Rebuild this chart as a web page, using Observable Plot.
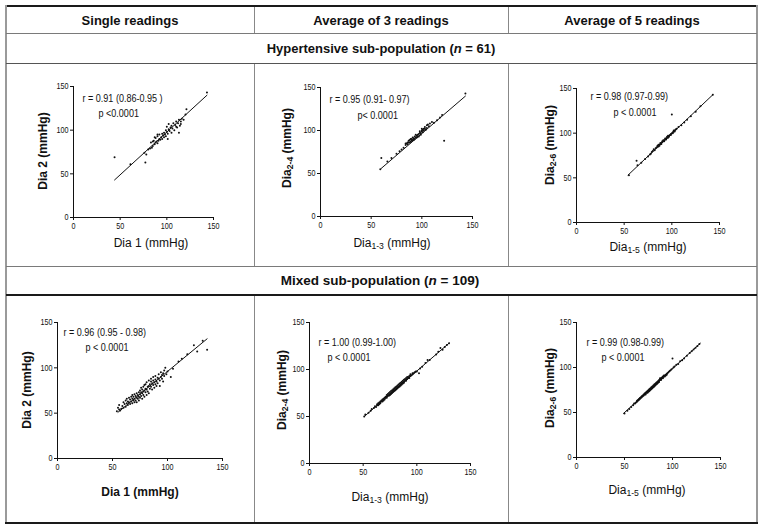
<!DOCTYPE html>
<html>
<head>
<meta charset="utf-8">
<script src="https://cdn.jsdelivr.net/npm/d3@7"></script>
<script src="https://cdn.jsdelivr.net/npm/@observablehq/plot@0.6"></script>
<style>
  html, body { margin: 0; padding: 0; background: #fff; }
  #wrap { position: relative; width: 766px; height: 530px; background: #fff; overflow: hidden; }
  .ln { position: absolute; }
  .hd { position: absolute; font-family: "Liberation Sans", Arial, Helvetica, sans-serif; font-weight: bold; color: #111; white-space: nowrap; transform: translateX(-50%); line-height: 1; }
  svg.panel { position: absolute; }
</style>
</head>
<body>
<div id="wrap"></div>
<script>
// ---------------- DATA ----------------
const columnHeaders = ["Single readings", "Average of 3 readings", "Average of 5 readings"];
const rowHeaders = ["Hypertensive sub-population (", "n", " = 61)", "Mixed sub-population (", "n", " = 109)"];
const axisTicks = [0, 50, 100, 150];

// Hypertensive sub-population (n = 61)
const hyperSingle = [[44,69],[61,61],[76,74],[77,63],[78,72],[80,78],[82,79],[83,86],[84,80],[85,82],[86,88],[87,92],[87,84],[88,86],[88,91],[89,87],[90,85],[90,93],[91,88],[92,90],[92,95],[93,89],[94,92],[95,96],[95,90],[96,94],[97,97],[97,92],[98,95],[99,93],[99,100],[100,98],[100,104],[101,96],[101,90],[102,101],[102,107],[103,99],[104,103],[105,97],[105,105],[106,102],[107,108],[108,100],[109,106],[110,104],[110,110],[111,103],[112,108],[113,97],[113,112],[114,105],[115,110],[115,107],[116,113],[118,112],[120,118],[121,124],[143,143],[85,87],[90,95]];
const hyperAvg3 = [[59,55],[60,68],[66,64],[70,68],[75,73],[78,76],[80,78],[82,80],[84,83],[85,85],[86,84],[87,88],[88,86],[88,89],[89,87],[90,90],[90,88],[91,89],[92,91],[93,90],[93,93],[94,92],[95,94],[95,92],[96,95],[97,93],[97,96],[98,97],[99,95],[100,99],[100,100],[101,98],[102,102],[102,100],[103,104],[104,101],[105,106],[105,103],[106,107],[107,105],[108,108],[110,110],[112,109],[115,112],[118,115],[120,118],[122,88],[143,143],[86,86],[89,90],[91,92],[92,89],[94,95],[96,93],[98,99],[99,97],[101,101],[103,102],[84,85],[87,86],[100,102]];
const hyperAvg5 = [[55,53],[63,69],[64,64],[68,67],[72,71],[75,74],[78,77],[80,80],[82,81],[83,83],[84,84],[85,85],[86,85],[87,87],[88,88],[88,89],[89,89],[90,90],[90,91],[91,91],[92,92],[93,93],[93,94],[94,94],[95,95],[95,96],[96,95],[97,97],[98,98],[99,99],[100,121],[100,100],[101,101],[102,102],[102,103],[103,103],[104,104],[105,105],[107,107],[110,109],[113,112],[116,115],[120,119],[125,124],[130,130],[143,143],[86,87],[89,88],[91,92],[92,91],[94,93],[96,97],[97,96],[99,98],[101,100],[103,102],[85,86],[87,86],[81,82],[79,79],[77,76]];

// Mixed sub-population (n = 109)
const mixedSingle = [[54,52],[55,56],[56,59],[57,53],[58,55],[59,58],[60,62],[60,56],[61,60],[62,57],[62,64],[63,61],[63,66],[64,59],[64,63],[65,67],[65,62],[66,60],[66,65],[67,68],[67,63],[68,66],[68,61],[68,70],[69,64],[69,68],[70,62],[70,66],[70,71],[71,69],[71,64],[72,67],[72,72],[72,62],[73,70],[73,66],[74,73],[74,68],[74,64],[75,71],[75,75],[75,67],[76,69],[76,73],[76,78],[77,72],[77,66],[77,76],[78,74],[78,70],[78,79],[79,75],[79,68],[79,81],[80,77],[80,73],[80,82],[81,76],[81,70],[81,84],[82,79],[82,74],[83,80],[83,86],[83,72],[84,82],[84,77],[85,85],[85,79],[85,88],[86,83],[86,76],[87,86],[87,81],[87,90],[88,84],[88,78],[89,87],[89,82],[89,91],[90,85],[90,80],[91,89],[91,83],[92,88],[92,93],[93,86],[93,80],[94,90],[94,95],[95,88],[95,92],[96,94],[96,85],[97,97],[97,91],[98,100],[99,93],[100,96],[103,90],[105,99],[110,107],[113,110],[118,115],[124,125],[127,118],[132,130],[136,120],[56,54]];
const mixedAvg3 = [[51,50],[52,52],[55,54],[57,56],[58,58],[60,59],[61,61],[62,60],[63,63],[63,62],[64,64],[64,62],[65,65],[65,63],[66,66],[66,64],[67,66],[67,67],[68,68],[68,66],[69,69],[69,67],[70,70],[70,68],[71,70],[71,71],[72,71],[72,73],[72,70],[73,72],[73,74],[74,73],[74,72],[74,75],[75,74],[75,76],[75,73],[76,75],[76,77],[76,74],[77,76],[77,78],[77,75],[78,77],[78,79],[78,76],[79,78],[79,80],[79,77],[80,79],[80,81],[80,78],[81,80],[81,82],[81,79],[82,81],[82,83],[82,80],[83,82],[83,84],[83,81],[84,83],[84,85],[84,82],[85,84],[85,86],[85,83],[86,85],[86,87],[86,84],[87,86],[87,88],[87,85],[88,87],[88,89],[88,86],[89,88],[89,90],[90,89],[90,91],[90,88],[91,90],[91,92],[92,91],[92,92],[93,91],[93,93],[94,93],[94,95],[95,94],[96,95],[96,96],[97,96],[98,97],[99,98],[100,98],[102,96],[103,101],[105,103],[108,107],[110,110],[112,110],[118,116],[120,119],[122,123],[124,121],[126,124],[128,126],[130,128]];
const mixedAvg5 = [[50,49],[53,52],[55,54],[57,56],[59,58],[60,60],[61,60],[62,61],[63,62],[63,63],[64,63],[64,64],[65,64],[65,65],[66,65],[66,66],[67,66],[67,67],[68,67],[68,68],[69,68],[69,69],[70,69],[70,70],[71,70],[71,71],[72,71],[72,72],[72,70],[73,72],[73,73],[74,73],[74,72],[74,74],[75,74],[75,75],[75,73],[76,75],[76,76],[76,74],[77,76],[77,77],[77,75],[78,77],[78,78],[78,76],[79,78],[79,79],[79,77],[80,79],[80,80],[80,78],[81,80],[81,81],[81,79],[82,81],[82,82],[82,80],[83,82],[83,83],[83,81],[84,83],[84,84],[84,82],[85,84],[85,85],[85,83],[86,85],[86,86],[86,84],[87,86],[87,87],[87,88],[88,87],[88,88],[88,86],[89,88],[89,89],[90,89],[90,90],[90,88],[91,90],[91,91],[92,91],[92,90],[93,92],[93,91],[94,93],[94,92],[95,94],[96,95],[97,96],[98,97],[99,98],[100,110],[101,100],[102,101],[104,103],[106,104],[108,107],[110,108],[112,110],[115,113],[118,116],[120,118],[122,120],[124,122],[126,124],[128,126]];

// Fitted regression lines (end points)
const fitHyperSingle = [[44,43],[143,140]];
const fitHyperAvg3   = [[60,56],[143,140]];
const fitHyperAvg5   = [[54,53],[143,143]];
const fitMixedSingle = [[55,51],[136,132]];
const fitMixedAvg3   = [[51,50],[130,128]];
const fitMixedAvg5   = [[49,49],[129,127]];

// Statistics text
const rLabels = ["r = 0.91 (0.86-0.95 )", "r = 0.95 (0.91- 0.97)", "r = 0.98 (0.97-0.99)", "r = 0.96 (0.95 - 0.98)", "r = 1.00 (0.99-1.00)", "r = 0.99 (0.98-0.99)"];
const pLabels = ["p <0.0001", "p< 0.0001", "p < 0.0001", "p < 0.0001", "p < 0.0001", "p < 0.0001"];

// Axis labels: [base, subscript, rest]
const xLabels = [["Dia 1 (mmHg)", "", ""], ["Dia", "1-3", " (mmHg)"], ["Dia", "1-5", " (mmHg)"], ["Dia 1 (mmHg)", "", ""], ["Dia", "1-3", " (mmHg)"], ["Dia", "1-5", " (mmHg)"]];
const yLabels = [["Dia 2 (mmHg)", "", ""], ["Dia", "2-4", " (mmHg)"], ["Dia", "2-6", " (mmHg)"], ["Dia 2 (mmHg)", "", ""], ["Dia", "2-4", " (mmHg)"], ["Dia", "2-6", " (mmHg)"]];

const panelData = [hyperSingle, hyperAvg3, hyperAvg5, mixedSingle, mixedAvg3, mixedAvg5];
const panelFits = [fitHyperSingle, fitHyperAvg3, fitHyperAvg5, fitMixedSingle, fitMixedAvg3, fitMixedAvg5];

// ---------------- LAYOUT ----------------
const FONT = '"Liberation Sans", Arial, Helvetica, sans-serif';
const NARROW = '"Liberation Sans Narrow", "Arial Narrow", "Liberation Sans", Arial, sans-serif';
const wrap = document.getElementById("wrap");

function line(x, y, w, h, color) {
  const d = document.createElement("div");
  d.className = "ln";
  Object.assign(d.style, {left: x + "px", top: y + "px", width: w + "px", height: h + "px", background: color});
  wrap.appendChild(d);
}
// outer & inner rules
line(5, 5, 753, 2, "#1a1a1a");      // top
line(5, 5, 2, 519, "#9a9a9a");      // left
line(756, 5, 2, 519, "#9a9a9a");    // right
line(6, 33, 751, 1, "#7a7a7a");
line(6, 63, 751, 1, "#555");
line(6, 266, 751, 1, "#7a7a7a");
line(6, 294, 751, 2, "#1a1a1a");
line(5, 522, 753, 2, "#1a1a1a");
for (const x of [254, 508]) {
  line(x, 7, 1, 26, "#888");
  line(x, 64, 1, 202, "#888");
  line(x, 296, 1, 226, "#888");
}

function header(html, cx, top, size) {
  const d = document.createElement("div");
  d.className = "hd";
  d.style.left = cx + "px";
  d.style.top = top + "px";
  d.style.fontSize = size + "px";
  d.innerHTML = html;
  wrap.appendChild(d);
}
header(columnHeaders[0], 130, 14, 13);
header(columnHeaders[1], 381, 14, 13);
header(columnHeaders[2], 632, 14, 13);
header(rowHeaders[0] + "<i>" + rowHeaders[1] + "</i>" + rowHeaders[2], 381, 42, 13);
header(rowHeaders[3] + "<i>" + rowHeaders[4] + "</i>" + rowHeaders[5], 380, 274, 13.5);

// panel geometry: cell box and frame (pixel positions of 0 and 150 on each axis)
const cells = [
  {cx: 7,   cy: 64,  w: 247, h: 202, fx0: 73,  fx1: 213, fy0: 217, fy1: 86,
   xl: [151, 243, false], yl: [43, 151], r: [82, 98], p: [98, 113]},
  {cx: 255, cy: 64,  w: 253, h: 202, fx0: 320, fx1: 472, fy0: 216, fy1: 87,
   xl: [392, 243, false], yl: [287, 148], r: [329, 99], p: [357, 115]},
  {cx: 509, cy: 64,  w: 247, h: 202, fx0: 576, fx1: 719, fy0: 222, fy1: 88,
   xl: [648, 247, false], yl: [550, 145], r: [590, 96], p: [613, 112]},
  {cx: 7,   cy: 296, w: 247, h: 226, fx0: 57,  fx1: 222, fy0: 458, fy1: 322,
   xl: [140, 492, true], yl: [27, 390], r: [63, 332], p: [85, 347]},
  {cx: 255, cy: 296, w: 253, h: 226, fx0: 309, fx1: 470, fy0: 463, fy1: 322,
   xl: [390, 497, false], yl: [282, 390], r: [318, 342], p: [327, 357]},
  {cx: 509, cy: 296, w: 247, h: 226, fx0: 576, fx1: 720, fy0: 457, fy1: 322,
   xl: [647, 490, false], yl: [550, 388], r: [586, 342], p: [601, 357]}
];

function addLabel(svg, parts, x, y, rotate, bold, size) {
  const t = svg.append("text")
    .attr("text-anchor", "middle")
    .attr("dominant-baseline", "central")
    .attr("transform", `translate(${x},${y})` + (rotate ? " rotate(-90)" : ""))
    .attr("fill", "#111")
    .style("font-family", FONT)
    .style("font-size", size + "px")
    .style("font-weight", bold ? "bold" : "normal");
  t.append("tspan").text(parts[0]);
  if (parts[1]) {
    t.append("tspan").attr("dy", 3).style("font-size", (size * 0.72) + "px").text(parts[1]);
    t.append("tspan").attr("dy", -3).text(parts[2]);
  }
}

// squeeze text horizontally to mimic the narrow typeface of the original
function condense(nodes, factor) {
  nodes.forEach(n => {
    const len = n.getComputedTextLength();
    if (len > 0) {
      n.setAttribute("textLength", (len * factor).toFixed(2));
      n.setAttribute("lengthAdjust", "spacingAndGlyphs");
    }
  });
}

cells.forEach((c, i) => {
  const pts = panelData[i];
  const fit = panelFits[i];
  const toX = px => (px - c.fx0) / (c.fx1 - c.fx0) * 150;
  const toY = py => (c.fy0 - py) / (c.fy0 - c.fy1) * 150;
  const plot = Plot.plot({
    width: c.w,
    height: c.h,
    marginLeft: c.fx0 - c.cx,
    marginRight: c.cx + c.w - c.fx1,
    marginTop: c.fy1 - c.cy,
    marginBottom: c.cy + c.h - c.fy0,
    x: {domain: [0, 150], ticks: axisTicks, tickSize: 3, tickPadding: 2, label: null, line: true},
    y: {domain: [0, 150], ticks: axisTicks, tickSize: 3, tickPadding: 2, label: null, line: true},
    style: {fontFamily: NARROW, fontSize: "9px", background: "transparent", color: "#111", overflow: "visible"},
    marks: [
      Plot.line(fit, {x: d => d[0], y: d => d[1], stroke: "#111", strokeWidth: 1}),
      Plot.dot(pts, {x: d => d[0], y: d => d[1], r: 1, fill: "#111", stroke: "none"}),
      Plot.text([rLabels[i]], {x: toX(c.r[0]), y: toY(c.r[1]), text: d => d, textAnchor: "start", fontSize: 10.5, fontFamily: NARROW, fill: "#111"}),
      Plot.text([pLabels[i]], {x: toX(c.p[0]), y: toY(c.p[1]), text: d => d, textAnchor: "start", fontSize: 10.5, fontFamily: NARROW, fill: "#111"})
    ]
  });
  plot.classList.add("panel");
  plot.style.left = c.cx + "px";
  plot.style.top = c.cy + "px";
  plot.style.width = c.w + "px";
  plot.style.height = c.h + "px";
  plot.style.maxWidth = "none";
  wrap.appendChild(plot);
  const svg = d3.select(plot);
  addLabel(svg, xLabels[i], c.xl[0] - c.cx, c.xl[1] - c.cy, false, c.xl[2], 12);
  addLabel(svg, yLabels[i], c.yl[0] - c.cx, c.yl[1] - c.cy, true, true, 12);
  // narrow the stats text and tick labels
  const statTexts = Array.from(plot.querySelectorAll("text")).filter(n => rLabels.includes(n.textContent) || pLabels.includes(n.textContent));
  condense(statTexts, 0.86);
  const tickTexts = Array.from(plot.querySelectorAll("text")).filter(n => /^\d+$/.test(n.textContent.trim()));
  condense(tickTexts, 0.8);
});
</script>
</body>
</html>
